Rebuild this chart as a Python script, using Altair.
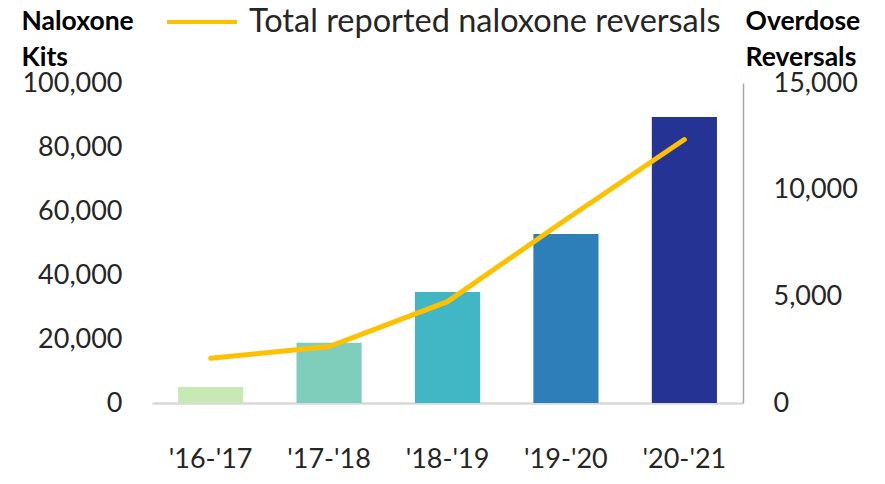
import altair as alt
import pandas as pd

seasons = ["'16-'17", "'17-'18", "'18-'19", "'19-'20", "'20-'21"]
kits = [5000, 18800, 34700, 52800, 89400]
reversals = [2100, 2650, 4750, 8600, 12350]
bar_colors = ["#c7e9b4", "#7fcdbb", "#41b6c4", "#2c7fb8", "#253494"]
line_label = "Total reported naloxone reversals"

df = pd.DataFrame({
    "season": seasons,
    "kits": kits,
    "reversals": reversals,
    "series": [line_label] * len(seasons),
})

FONT = "Lato"

x = alt.X(
    "season:N",
    sort=seasons,
    scale=alt.Scale(paddingInner=0.45, paddingOuter=0.22),
    axis=alt.Axis(
        title=None, labelAngle=0, labelFont=FONT, labelFontSize=27,
        labelColor="#262626", ticks=False, tickSize=0, labelPadding=64,
        labelBaseline="alphabetic",
        domainColor="#d9d9d9", domainWidth=2.5,
    ),
)

bars = alt.Chart(df).mark_bar().encode(
    x=x,
    y=alt.Y(
        "kits:Q",
        scale=alt.Scale(domain=[0, 100000], nice=False),
        axis=alt.Axis(
            orient="left", values=[0, 20000, 40000, 60000, 80000, 100000],
            format=",.0f", grid=False, domain=False, ticks=False, tickSize=0,
            labelFont=FONT, labelFontSize=27, labelColor="#262626", labelPadding=30,
            title=["Naloxone", "Kits"], titleAngle=0, titleAlign="left",
            titleBaseline="alphabetic", titleX=-131, titleY=-54,
            titleFont=FONT, titleFontSize=26.5, titleFontWeight="bold",
            titleColor="#000000", titleLineHeight=36,
        ),
    ),
    fill=alt.Fill("season:N", sort=seasons,
                  scale=alt.Scale(domain=seasons, range=bar_colors), legend=None),
)

line = alt.Chart(df).mark_line(strokeWidth=5, strokeCap="round").encode(
    x=x,
    y=alt.Y(
        "reversals:Q",
        scale=alt.Scale(domain=[0, 15000], nice=False),
        axis=alt.Axis(
            orient="right", values=[0, 5000, 10000, 15000],
            format=",.0f", grid=False, domain=True, domainColor="#a6a6a6",
            domainWidth=1.5, ticks=False, tickSize=0,
            labelFont=FONT, labelFontSize=27, labelColor="#262626", labelPadding=30,
            title=["Overdose", "Reversals"], titleAngle=0, titleAlign="left",
            titleBaseline="alphabetic", titleX=2, titleY=-54,
            titleFont=FONT, titleFontSize=26.5, titleFontWeight="bold",
            titleColor="#000000", titleLineHeight=36,
        ),
    ),
    stroke=alt.Stroke(
        "series:N",
        scale=alt.Scale(domain=[line_label], range=["#FFC000"]),
        legend=alt.Legend(
            title=None, orient="none", legendX=13, legendY=-98,
            symbolType="stroke", symbolSize=4900, symbolStrokeWidth=4,
            labelFont=FONT, labelFontSize=32.5, labelColor="#262626",
            labelOffset=10, labelLimit=800, padding=0,
        ),
    ),
)

chart = alt.layer(bars, line).resolve_scale(
    y="independent", fill="independent", stroke="independent"
).properties(
    width=591, height=320,
    autosize=alt.AutoSizeParams(type="none"),
    padding={"left": 144, "top": 75, "right": 130, "bottom": 71},
).configure_view(stroke=None)

chart.save("out.html", embed_options={"renderer": "svg", "actions": False})
